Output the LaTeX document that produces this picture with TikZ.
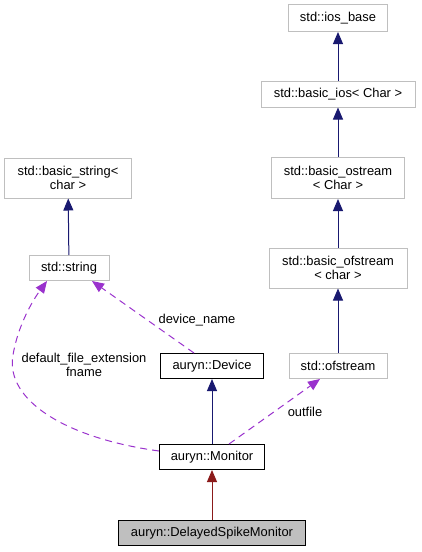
\documentclass[tikz,border=0pt]{standalone}
\usepackage{fontspec}
\setmainfont{Liberation Sans}
\usetikzlibrary{arrows.meta,calc}
\definecolor{edgeblue}{HTML}{191970}
\definecolor{edgered}{HTML}{8B1A1A}
\definecolor{edgepurple}{HTML}{9A32CD}
\definecolor{boxgray}{HTML}{BFBFBF}
\begin{document}
\begin{tikzpicture}[x=1pt,y=-1pt,
  every node/.style={font=\fontsize{12.9}{14.5}\selectfont, align=center, inner sep=0pt},
  ext/.style={draw=boxgray, line width=1pt, rectangle, fill=white},
  cls/.style={draw=black, line width=1pt, rectangle, fill=white},
  cur/.style={draw=black, line width=1pt, rectangle, fill=boxgray},
  inh/.style={draw=edgeblue, line width=1pt, -{Triangle[length=12pt,width=10pt]}},
  pub/.style={draw=edgered, line width=1pt, -{Triangle[length=12pt,width=10pt]}},
  dep/.style={draw=edgepurple, line width=1pt, dash pattern=on 7pt off 5pt, -{Triangle[length=12pt,width=10pt]}},
  lbl/.style={font=\fontsize{12.9}{13.5}\selectfont}
]
\useasboundingbox (0,0) rectangle (421,552);
% external classes
\node[ext, minimum width=99pt, minimum height=27pt] (iosb) at (338,18) {std::ios\_base};
\node[ext, minimum width=154pt, minimum height=26pt] (bios) at (338,94) {std::basic\_ios< Char >};
\node[ext, minimum width=133pt, minimum height=41pt] (bost) at (338,178) {std::basic\_ostream\\< Char >};
\node[ext, minimum width=138pt, minimum height=40pt] (bofs) at (338,268) {std::basic\_ofstream\\< char >};
\node[ext, minimum width=98pt, minimum height=25pt] (ofs) at (338,366) {std::ofstream};
\node[ext, minimum width=127pt, minimum height=40pt] (bstr) at (68,178) {std::basic\_string<\\char >};
\node[ext, minimum width=80pt, minimum height=25pt] (str) at (69,268) {std::string};
% auryn classes
\node[cls, minimum width=103pt, minimum height=25pt] (dev) at (212,366) {auryn::Device};
\node[cls, minimum width=105pt, minimum height=25pt] (mon) at (212,457) {auryn::Monitor};
\node[cur, minimum width=187pt, minimum height=25pt] (dsm) at (212,533) {auryn::DelayedSpikeMonitor};
% inheritance
\draw[inh] (bios) -- (iosb);
\draw[inh] (bost) -- (bios);
\draw[inh] (bofs) -- (bost);
\draw[inh] (ofs) -- (bofs);
\draw[inh] (str) -- (bstr);
\draw[inh] (mon) -- (dev);
\draw[pub] (dsm) -- (mon);
% usage
\draw[dep] ($(dev.north)+(-18,0)$) -- ($(str.south)+(23,0)$);
\draw[dep] ($(mon.west)+(0,-6)$) .. controls (65,438) and (5,400) .. (13,355) .. controls (18,325) and (33,300) .. ($(str.south)+(-22,0)$);
\draw[dep] ($(mon.north)+(17,0)$) -- ($(ofs.south)+(-18,0)$);
% labels
\node[lbl] (l1) at (197,320) {device\_name};
\node[lbl] (l2) at (84,365) {default\_file\_extension\\fname};
\node[lbl] (l3) at (305,412) {outfile};
\end{tikzpicture}
\end{document}
